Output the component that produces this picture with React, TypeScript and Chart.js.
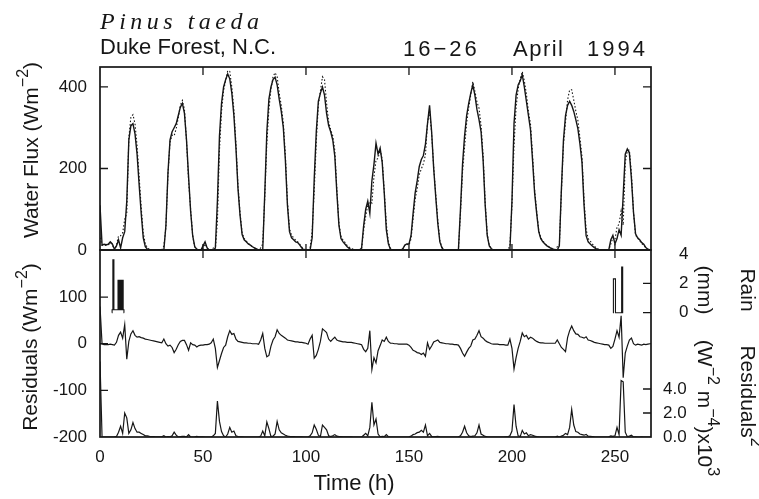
import React, { useEffect, useRef } from "react";
import { Chart, registerables } from "chart.js";

Chart.register(...registerables);

const SANS = '"Liberation Sans", Arial, sans-serif';
const SERIF = '"Liberation Serif", "Times New Roman", serif';
const INK = "#161616";

// Water flux, hourly from t = 0 h to t = 268 h (W m^-2)
const FLUX_MEASURED = [
  110, 12, 14, 13, 14, 20, 15, 2, 10, 25,
  5, 30, 45, 120, 270, 305, 310, 285, 235, 160,
  90, 30, 8, 2, 0, 0, 0, 0, 0, 0,
  0, 0, 60, 190, 270, 290, 300, 310, 330, 350,
  360, 335, 270, 180, 95, 35, 8, 2, 0, 0,
  10, 20, 5, 0, 0, 0, 5, 120, 280, 360,
  400, 418, 432, 420, 385, 330, 250, 150, 85, 38,
  25, 20, 15, 12, 8, 5, 3, 0, 0, 0,
  140, 290, 370, 400, 418, 424, 405, 370, 340, 300,
  220, 110, 45, 30, 25, 20, 18, 12, 5, 0,
  0, 0, 0, 30, 175, 290, 365, 385, 400, 380,
  335, 305, 290, 270, 230, 140, 60, 28, 20, 14,
  8, 4, 0, 0, 0, 0, 0, 5, 60, 100,
  120, 90, 170, 210, 262, 235, 250, 215, 140, 50,
  15, 2, 0, 0, 0, 0, 0, 3, 12, 15,
  15, 35, 90, 140, 170, 205, 222, 232, 260, 310,
  355, 290, 200, 130, 65, 20, 5, 0, 0, 0,
  0, 0, 0, 0, 0, 100, 210, 280, 330, 360,
  385, 405, 380, 345, 320, 290, 220, 110, 35, 10,
  3, 0, 0, 0, 0, 0, 0, 0, 0, 0,
  120, 310, 380, 405, 415, 430, 400, 365, 330, 295,
  220, 140, 90, 45, 28, 20, 15, 10, 7, 4,
  2, 0, 0, 10, 150, 270, 330, 355, 365, 355,
  340, 320, 298, 260, 215, 110, 35, 20, 15, 10,
  6, 3, 1, 0, 0, 0, 0, 0, 25, 36,
  15, 28, 50, 36, 134, 235, 248, 238, 175, 93,
  40, 30, 25, 18, 14, 6, 2, 0, 0,
];

const FLUX_MODELED = [
  30, 12, 12, 11, 12, 18, 13, 0, 12, 35,
  35, 42, 75, 90, 275, 326, 332, 310, 255, 180,
  105, 42, 15, 5, 2, 0, 0, 0, 0, 0,
  0, 10, 55, 185, 265, 282, 280, 298, 325, 355,
  367, 345, 268, 170, 100, 35, 6, 0, 0, 0,
  5, 15, 5, 0, 0, 5, 0, 70, 245, 340,
  392, 415, 440, 438, 400, 345, 262, 158, 90, 42,
  28, 22, 16, 12, 8, 5, 3, 0, 5, 15,
  130, 262, 345, 395, 425, 435, 425, 385, 355, 312,
  232, 118, 52, 36, 30, 24, 20, 14, 7, 2,
  1, 0, 5, 45, 145, 265, 355, 390, 425, 418,
  360, 315, 295, 280, 244, 148, 66, 33, 24, 18,
  11, 7, 3, 2, 1, 0, 0, 3, 48, 83,
  110, 118, 115, 180, 221, 225, 246, 222, 145, 64,
  20, 3, 1, 0, 0, 0, 0, 2, 11, 14,
  12, 27, 76, 124, 151, 185, 199, 212, 233, 312,
  343, 285, 204, 136, 73, 23, 7, 1, 0, 0,
  0, 0, 0, 0, 0, 90, 190, 253, 312, 350,
  380, 413, 390, 363, 348, 305, 232, 117, 39, 12,
  3, 0, 0, 0, 0, 0, 0, 0, 0, 10,
  110, 256, 350, 395, 420, 438, 415, 383, 340, 309,
  232, 148, 95, 48, 30, 22, 16, 11, 8, 5,
  3, 1, 8, 10, 142, 258, 313, 368, 393, 393,
  368, 341, 318, 275, 229, 122, 50, 28, 22, 15,
  9, 5, 2, 0, 0, 0, 0, 0, 15, 30,
  25, 56, 64, 96, 61, 215, 243, 246, 187, 93,
  37, 29, 23, 15, 13, 4, 1, 0, 0,
];

// Residuals (W m^-2), hourly
const RESIDUALS = [
  80, 0, -2, -2, -2, -1, -2, -3, 3, 18,
  25, 12, 41, -33, 5, 21, 28, 18, 14, 15,
  13, 12, 10, 9, 8, 7, 6, 5, 4, 3,
  2, 10, 0, -5, -3, -8, -19, -12, -2, 5,
  7, 7, -2, -14, 2, -2, -3, -7, -4, -3,
  -3, -2, -2, -1, 2, 10, -10, -51, -36, -21,
  -8, -3, 15, 28, 20, 22, 10, 5, 4, 3,
  2, 2, 1, 1, 0, 0, 0, -1, 8, 22,
  -10, -28, -25, -5, 8, 15, 30, 22, 18, 15,
  12, 8, 7, 6, 5, 4, 4, 3, 3, 2,
  1, -1, 10, 18, -31, -25, -12, 5, 32, 28,
  24, 10, 5, 10, 14, 8, 6, 5, 4, 4,
  3, 3, 3, 2, 1, 0, -1, -2, -12, -17,
  -10, 28, -55, -30, -41, -15, -4, 8, 5, 14,
  5, 1, 1, 0, 0, -1, -1, -1, -1, -1,
  -3, -8, -14, -16, -19, -20, -23, -20, -27, 2,
  -12, -5, 4, 6, 8, 3, 2, 1, 0, 0,
  -1, -1, -2, -2, -3, -10, -20, -27, -18, -10,
  -5, 8, 10, 18, 28, 15, 12, 7, 4, 2,
  0, -1, -1, -1, -2, -2, -2, -3, -3, 10,
  -10, -54, -30, -10, 5, 23, 15, 18, 10, 14,
  12, 8, 5, 3, 2, 2, 1, 1, 1, 1,
  1, 1, 8, 0, -8, -12, -17, 13, 28, 38,
  28, 21, 20, 15, 14, 12, 15, 8, 7, 5,
  3, 2, 1, 0, -1, -2, -2, -3, -10, -6,
  10, 28, 14, 60, -73, -20, -5, 8, 12, 0,
  -3, -1, -2, -3, -1, -2, -1, 0, 0,
];

// Residuals squared (x10^3 W^2 m^-4), hourly
const RESIDUALS_SQ = [
  6.3, 0, 0, 0, 0, 0, 0, 0.01, 0.05, 0.4,
  0.9, 0.3, 2.0, 1.6, 0.3, 0.6, 1.2, 0.7, 0.4, 0.4,
  0.3, 0.2, 0.1, 0.1, 0.05, 0.04, 0.03, 0.02, 0.02, 0.01,
  0.01, 0.1, 0, 0.03, 0.01, 0.1, 0.4, 0.15, 0, 0.03,
  0.05, 0.05, 0, 0.2, 0, 0, 0.01, 0.05, 0.02, 0.01,
  0.01, 0, 0, 0, 0, 0.1, 0.3, 3.0, 1.3, 0.45,
  0.1, 0, 0.25, 0.8, 0.4, 0.5, 0.1, 0.03, 0.02, 0.01,
  0, 0, 0, 0, 0, 0, 0, 0, 0.07, 0.5,
  0.1, 1.25, 0.7, 0.03, 0.07, 0.25, 1.3, 0.6, 0.35, 0.25,
  0.15, 0.07, 0.05, 0.04, 0.03, 0.02, 0.02, 0.01, 0.01, 0,
  0, 0, 0.1, 0.35, 1.0, 0.65, 0.15, 0.03, 1.0, 0.8,
  0.6, 0.1, 0.03, 0.1, 0.2, 0.07, 0.04, 0.03, 0.02, 0.02,
  0.01, 0.01, 0.01, 0, 0, 0, 0, 0, 0.15, 0.3,
  0.1, 0.8, 2.9, 1.0, 1.5, 0.25, 0.02, 0.06, 0.03, 0.2,
  0.03, 0, 0, 0, 0, 0, 0, 0, 0, 0,
  0.01, 0.07, 0.2, 0.25, 0.36, 0.4, 0.55, 0.4, 1.0, 0.1,
  0.3, 0.05, 0.02, 0.04, 0.06, 0.01, 0, 0, 0, 0,
  0, 0, 0, 0, 0.01, 0.1, 0.4, 0.9, 0.35, 0.1,
  0.03, 0.07, 0.1, 0.35, 1.0, 0.25, 0.15, 0.05, 0.02, 0,
  0, 0, 0, 0, 0, 0, 0, 0.01, 0.01, 0.1,
  0.5, 2.7, 0.9, 0.1, 0.03, 0.55, 0.25, 0.35, 0.1, 0.2,
  0.15, 0.07, 0.03, 0.01, 0, 0, 0, 0, 0, 0,
  0, 0, 0.07, 0, 0.07, 0.15, 0.3, 0.2, 0.8, 2.3,
  1.0, 0.45, 0.4, 0.25, 0.2, 0.15, 0.22, 0.07, 0.05, 0.03,
  0.01, 0, 0, 0, 0, 0, 0, 0.01, 0.1, 0.05,
  0.1, 0.8, 0.2, 4.7, 4.6, 0.4, 0.03, 0.07, 0.15, 0,
  0.01, 0, 0, 0.01, 0, 0, 0, 0, 0,
];

// Rain (mm per half hour); null separates the two events
const RAIN_HOURS = [
  5.75, 6, 6.5, 7, 7.5, 8, 8.5, 9, 9.5, 10, 10.5, 11, 11.5, 11.75,
  100,
  249, 249.5, 250, 250.5, 251, 251.5, 252, 252.5, 253, 253.5, 254,
];
const RAIN_MM = [
  0, 0.2, 3.6, 0.2, 0.2, 0.2, 0.2, 2.2, 0.2, 2.2, 0.2, 2.2, 0.2, 0,
  null,
  0, 2.3, 2.3, 0, 0, 0, 0, 0, 0, 3.1, 0,
];

const TIME_TICKS = [0, 50, 100, 150, 200, 250];
const FLUX_TICKS = [0, 200, 400];
const RES_TICKS = [-200, -100, 0, 100];
const RAIN_TICKS = [0, 2, 4];
const RES2_TICKS = [0, 2, 4];

const HOURS = FLUX_MEASURED.map((_, i) => i);
const pts = (ys: (number | null)[], xs: number[] = HOURS) =>
  ys.map((y, i) => ({ x: xs[i], y }));

type Part = { t: string; sup?: boolean };

function drawRich(ctx: CanvasRenderingContext2D, parts: Part[], size: number, x: number, y: number, rot: number) {
  ctx.save();
  ctx.translate(x, y);
  ctx.rotate(rot);
  const fontFor = (p: Part) => `${p.sup ? Math.round(size * 0.78) : size}px ${SANS}`;
  const widths = parts.map((p) => {
    ctx.font = fontFor(p);
    return ctx.measureText(p.t).width;
  });
  const total = widths.reduce((a, b) => a + b, 0);
  let cx = -total / 2;
  ctx.textAlign = "left";
  ctx.textBaseline = "alphabetic";
  parts.forEach((p, i) => {
    ctx.font = fontFor(p);
    ctx.fillText(p.t, cx, p.sup ? -size * 0.48 : 0);
    cx += widths[i];
  });
  ctx.restore();
}

const textPlugin = {
  id: "texts",
  afterDraw(chart: any) {
    const ctx: CanvasRenderingContext2D = chart.ctx;
    ctx.save();
    ctx.fillStyle = INK;
    ctx.textBaseline = "alphabetic";
    ctx.textAlign = "left";
    ctx.font = `italic 24px ${SERIF}`;
    (ctx as any).letterSpacing = "4.5px";
    ctx.fillText("Pinus taeda", 100, 29);
    (ctx as any).letterSpacing = "0px";
    ctx.font = `22px ${SANS}`;
    ctx.fillText("Duke Forest, N.C.", 100, 54);
    (ctx as any).letterSpacing = "3px";
    ctx.fillText("16\u221226", 403, 56);
    (ctx as any).letterSpacing = "1.5px";
    ctx.fillText("April", 513, 56);
    (ctx as any).letterSpacing = "3px";
    ctx.fillText("1994", 587, 56);
    (ctx as any).letterSpacing = "0px";

    drawRich(ctx, [{ t: "Water Flux (Wm" }, { t: "\u22122", sup: true }, { t: ")" }], 21, 38, 150, -Math.PI / 2);
    drawRich(ctx, [{ t: "Residuals (Wm" }, { t: "\u22122", sup: true }, { t: ")" }], 21, 37, 347, -Math.PI / 2);
    drawRich(ctx, [{ t: "Rain" }], 21, 741, 290, Math.PI / 2);
    drawRich(ctx, [{ t: "(mm)" }], 21, 698, 290, Math.PI / 2);
    drawRich(ctx, [{ t: "Residuals" }, { t: "2", sup: true }], 21, 741, 396, Math.PI / 2);
    drawRich(
      ctx,
      [{ t: "(W" }, { t: "\u22122", sup: true }, { t: " m" }, { t: "\u22124", sup: true }, { t: ")x10" }, { t: "3", sup: true }],
      21, 698, 408, Math.PI / 2
    );
    drawRich(ctx, [{ t: "Time (h)" }], 22, 354, 490, 0);
    ctx.restore();
  },
};

const framePlugin = {
  id: "frame",
  afterDatasetsDraw(chart: any) {
    const { ctx, chartArea: a, scales } = chart;
    const x = scales.x, yF = scales.yFlux, yR = scales.yRes, yRain = scales.yRain, yR2 = scales.yRes2;
    ctx.save();
    ctx.strokeStyle = INK;
    ctx.lineWidth = 1.7;
    ctx.strokeRect(a.left, yF.top, a.right - a.left, yF.bottom - yF.top);
    ctx.strokeRect(a.left, yR.top, a.right - a.left, yR.bottom - yR.top);
    ctx.lineWidth = 1.3;
    ctx.beginPath();
    const T = 8;
    TIME_TICKS.forEach((v) => {
      if (v === 0) return;
      const px = x.getPixelForValue(v);
      ctx.moveTo(px, yF.top);
      ctx.lineTo(px, yF.top + T);
      ctx.moveTo(px, yF.bottom - 6);
      ctx.lineTo(px, yF.bottom + T);
    });
    FLUX_TICKS.forEach((v) => {
      if (v === 0) return;
      const py = yF.getPixelForValue(v);
      ctx.moveTo(a.left, py);
      ctx.lineTo(a.left + T, py);
      ctx.moveTo(a.right, py);
      ctx.lineTo(a.right - T, py);
    });
    RES_TICKS.forEach((v) => {
      if (v === -200) return;
      const py = yR.getPixelForValue(v);
      ctx.moveTo(a.left, py);
      ctx.lineTo(a.left + T, py);
    });
    RAIN_TICKS.forEach((v) => {
      if (v === 4) return;
      const py = yRain.getPixelForValue(v);
      ctx.moveTo(a.right, py);
      ctx.lineTo(a.right - T, py);
    });
    RES2_TICKS.forEach((v) => {
      if (v === 0) return;
      const py = yR2.getPixelForValue(v);
      ctx.moveTo(a.right, py);
      ctx.lineTo(a.right - T, py);
    });
    ctx.stroke();
    ctx.restore();
  },
};

const tickFont = { family: SANS, size: 17 };

function fixedTicks(values: number[]) {
  return (scale: any) => {
    scale.ticks = values.map((value) => ({ value }));
  };
}

export default function App() {
  const ref = useRef<HTMLCanvasElement | null>(null);

  useEffect(() => {
    if (!ref.current) return;
    const lineBase = { pointRadius: 0, tension: 0, fill: false, spanGaps: false };
    const chart = new Chart(ref.current, {
      type: "line",
      data: {
        datasets: [
          {
            ...lineBase,
            label: "Residuals",
            data: pts(RESIDUALS),
            yAxisID: "yRes",
            borderColor: INK,
            borderWidth: 1.2,
          },
          {
            ...lineBase,
            label: "Residuals squared",
            data: pts(RESIDUALS_SQ),
            yAxisID: "yRes2",
            borderColor: INK,
            borderWidth: 1.2,
          },
          {
            ...lineBase,
            label: "Rain",
            data: pts(RAIN_MM, RAIN_HOURS),
            yAxisID: "yRain",
            borderColor: INK,
            borderWidth: 1.1,
            stepped: "middle",
          },
          {
            ...lineBase,
            label: "Modeled",
            data: pts(FLUX_MODELED),
            yAxisID: "yFlux",
            borderColor: INK,
            borderWidth: 1.1,
            borderDash: [1.5, 2],
          },
          {
            ...lineBase,
            label: "Measured",
            data: pts(FLUX_MEASURED),
            yAxisID: "yFlux",
            borderColor: INK,
            borderWidth: 1.4,
          },
        ],
      } as any,
      options: {
        animation: false,
        responsive: false,
        devicePixelRatio: 1,
        layout: { padding: { top: 67, left: 0, right: 0, bottom: 0 } },
        plugins: { legend: { display: false }, tooltip: { enabled: false }, title: { display: false } },
        scales: {
          x: {
            type: "linear",
            position: "bottom",
            min: 0,
            max: 267.5,
            grid: { display: false, drawTicks: false },
            border: { display: false },
            afterBuildTicks: fixedTicks(TIME_TICKS),
            afterFit: (s: any) => { s.height = 62; },
            ticks: { font: tickFont, color: INK, padding: 10, maxRotation: 0, autoSkip: false },
          },
          yFlux: {
            type: "linear",
            position: "left",
            stack: "left",
            stackWeight: 183,
            weight: 2,
            min: 0,
            max: 449,
            grid: { display: false, drawTicks: false },
            border: { display: false },
            afterBuildTicks: fixedTicks(FLUX_TICKS),
            afterFit: (s: any) => { s.width = 100; },
            ticks: { font: tickFont, color: INK, padding: 13, autoSkip: false },
          },
          yRes: {
            type: "linear",
            position: "left",
            stack: "left",
            stackWeight: 187,
            weight: 1,
            min: -200,
            max: 201,
            grid: { display: false, drawTicks: false },
            border: { display: false },
            afterBuildTicks: fixedTicks(RES_TICKS),
            afterFit: (s: any) => { s.width = 100; },
            ticks: { font: tickFont, color: INK, padding: 13, autoSkip: false },
          },
          yFluxR: {
            type: "linear",
            position: "right",
            stack: "right",
            stackWeight: 183,
            weight: 1,
            min: 0,
            max: 449,
            grid: { display: false, drawTicks: false },
            border: { display: false },
            afterFit: (s: any) => { s.width = 108; },
            ticks: { display: false },
          },
          yRain: {
            type: "linear",
            position: "right",
            stack: "right",
            stackWeight: 80,
            weight: 2,
            min: -1.177,
            max: 4.265,
            grid: { display: false, drawTicks: false },
            border: { display: false },
            afterBuildTicks: fixedTicks(RAIN_TICKS),
            afterFit: (s: any) => { s.width = 108; },
            ticks: { font: tickFont, color: INK, padding: 28, crossAlign: "near", autoSkip: false },
          },
          yRes2: {
            type: "linear",
            position: "right",
            stack: "right",
            stackWeight: 107,
            weight: 3,
            min: 0,
            max: 8.92,
            grid: { display: false, drawTicks: false },
            border: { display: false },
            afterBuildTicks: fixedTicks(RES2_TICKS),
            afterFit: (s: any) => { s.width = 108; },
            ticks: {
              font: tickFont,
              color: INK,
              padding: 12,
              crossAlign: "near",
              autoSkip: false,
              callback: (v: any) => Number(v).toFixed(1),
            },
          },
        },
      } as any,
      plugins: [framePlugin, textPlugin],
    });
    return () => chart.destroy();
  }, []);

  return (
    <div style={{ position: "absolute", left: 0, top: 0, width: 759, height: 499, background: "#fff" }}>
      <canvas ref={ref} width={759} height={499} style={{ display: "block" }} />
    </div>
  );
}
